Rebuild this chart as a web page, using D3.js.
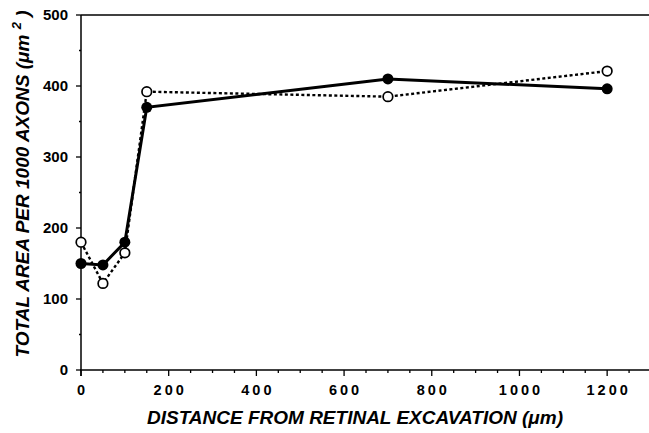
<!DOCTYPE html>
<html>
<head>
<meta charset="utf-8">
<script src="https://cdn.jsdelivr.net/npm/d3@7"></script>
<style>
  body { margin: 0; background: #fff; }
  svg { display: block; font-family: "Liberation Sans", Arial, sans-serif; }
</style>
</head>
<body>
<svg width="649" height="433"></svg>
<script>
const svg = d3.select("svg");

// distances along the nerve (um)
const distances = [0, 50, 100, 150, 700, 1200];
// filled circles, solid line
const filledSeries = [150, 148, 180, 370, 410, 396];
// open circles, dotted line
const openSeries = [180, 122, 165, 392, 385, 421];
const xTicks = [0, 200, 400, 600, 800, 1000, 1200];
const yTicks = [0, 100, 200, 300, 400, 500];

const x = d3.scaleLinear().domain([0, 1300]).range([81, 651]);
const y = d3.scaleLinear().domain([0, 500]).range([370, 15]);

// top frame line
svg.append("line")
  .attr("x1", x(0)).attr("x2", 649)
  .attr("y1", y(500)).attr("y2", y(500))
  .attr("stroke", "#000").attr("stroke-width", 1.5);

// x axis
const xAxis = svg.append("g").attr("transform", `translate(0,${y(0)})`);
xAxis.append("line").attr("x1", x(0) - 1).attr("x2", 649)
  .attr("stroke", "#000").attr("stroke-width", 1.5);
xAxis.selectAll(".minor")
  .data(d3.range(0, 1301, 50))
  .enter().append("line")
  .attr("x1", d => x(d)).attr("x2", d => x(d))
  .attr("y1", 0).attr("y2", d => d % 200 === 0 ? 6 : 3)
  .attr("stroke", "#000").attr("stroke-width", 1.3);
xAxis.selectAll("text")
  .data(xTicks)
  .enter().append("text")
  .attr("x", d => x(d) + (d === 0 ? 0 : 1.5)).attr("y", 25)
  .attr("text-anchor", "middle")
  .attr("font-size", 14.5).attr("font-weight", "bold")
  .attr("letter-spacing", d => d === 0 ? 0 : 3)
  .text(d => d);

// y axis
const yAxis = svg.append("g").attr("transform", `translate(${x(0)},0)`);
yAxis.append("line").attr("y1", y(500)).attr("y2", y(0) + 6)
  .attr("stroke", "#000").attr("stroke-width", 1.5);
yAxis.selectAll(".minor")
  .data(d3.range(0, 501, 50))
  .enter().append("line")
  .attr("y1", d => y(d)).attr("y2", d => y(d))
  .attr("x1", 0).attr("x2", d => d % 100 === 0 ? -5 : -2)
  .attr("stroke", "#000").attr("stroke-width", 1.3);
yAxis.selectAll("text")
  .data(yTicks)
  .enter().append("text")
  .attr("x", -13).attr("y", d => y(d) + 5)
  .attr("text-anchor", "end")
  .attr("font-size", 15).attr("font-weight", "bold")
  .text(d => d);

// axis titles
svg.append("text")
  .attr("x", 355).attr("y", 424)
  .attr("text-anchor", "middle")
  .attr("font-size", 19).attr("font-weight", "bold").attr("font-style", "italic")
  .text("DISTANCE FROM RETINAL EXCAVATION (\u03bcm)");

const yTitle = svg.append("text")
  .attr("transform", "translate(29,184) rotate(-90)")
  .attr("text-anchor", "middle")
  .attr("font-size", 19).attr("font-weight", "bold").attr("font-style", "italic");
yTitle.append("tspan").text("TOTAL AREA PER 1000 AXONS (\u03bcm ");
yTitle.append("tspan").attr("dy", -8).attr("font-size", 13).text("2");
yTitle.append("tspan").attr("dy", 8).text(" )");

// series
const filled = distances.map((d, i) => ({ x: d, y: filledSeries[i] }));
const open = distances.map((d, i) => ({ x: d, y: openSeries[i] }));
const line = d3.line().x(d => x(d.x)).y(d => y(d.y));

svg.append("path").datum(open)
  .attr("d", line).attr("fill", "none")
  .attr("stroke", "#000").attr("stroke-width", 2.4)
  .attr("stroke-dasharray", "3,2.5");

svg.append("path").datum(filled)
  .attr("d", line).attr("fill", "none")
  .attr("stroke", "#000").attr("stroke-width", 3);

svg.selectAll(".open")
  .data(open)
  .enter().append("circle")
  .attr("cx", d => x(d.x)).attr("cy", d => y(d.y))
  .attr("r", 4.8)
  .attr("fill", "#fff").attr("stroke", "#000").attr("stroke-width", 1.7);

svg.selectAll(".filled")
  .data(filled)
  .enter().append("circle")
  .attr("cx", d => x(d.x)).attr("cy", d => y(d.y))
  .attr("r", 5.5)
  .attr("fill", "#000");
</script>
</body>
</html>
